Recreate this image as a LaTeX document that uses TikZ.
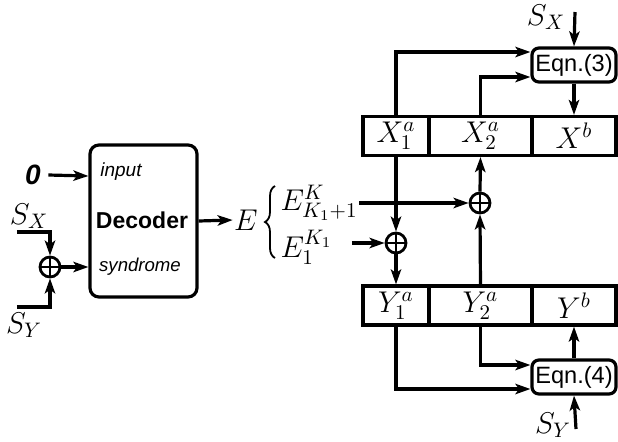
\RequirePackage{fix-cm}
\documentclass[tikz,border=0pt]{standalone}
\usepackage{fontspec}
\setmainfont{Liberation Sans}
\usetikzlibrary{arrows.meta,decorations.pathreplacing,calc}
\begin{document}
\begin{tikzpicture}[x=0.5pt,y=-0.5pt,
  line width=1.6pt,
  arr/.style={-{Stealth[length=7.5pt,width=5.2pt,inset=1.8pt]}},
  cell/.style={draw,minimum height=19.5pt,inner sep=0pt,font=\fontsize{15}{17}\selectfont},
  eqn/.style={draw,rounded corners=3.5pt,minimum width=42pt,minimum height=17pt,inner sep=0pt,font=\fontsize{11.8}{13}\selectfont},
  xorc/.style={draw,circle,minimum size=10pt,inner sep=0pt,line width=1.4pt,
    path picture={\draw[line width=1.3pt] (path picture bounding box.north)--(path picture bounding box.south)
      (path picture bounding box.west)--(path picture bounding box.east);}},
  mlab/.style={inner sep=0pt,font=\fontsize{15}{17}\selectfont},
  lab/.style={inner sep=0pt}]
\useasboundingbox (0,0) rectangle (618,441);
% left part
\node[draw,rounded corners=4.5pt,minimum width=53.5pt,minimum height=76pt,inner sep=0pt] (dec) at (143.5,221) {};
\node[lab,font=\fontsize{9.5}{11}\selectfont\itshape] (inp) at (121,172) {input};
\node[lab,font=\fontsize{11.5}{13}\selectfont\bfseries] (dtx) at (142,220) {Decoder};
\node[lab,font=\fontsize{9.3}{11}\selectfont\itshape] (syn) at (140,267) {syndrome};
\node[lab,font=\fontsize{14}{16}\selectfont\bfseries\itshape] (zero) at (33,175) {0};
\draw[arr] ([xshift=3pt]zero.east) -- ([yshift=22.5pt]dec.west);
\node[xorc] (xl) at (50,267) {};
\coordinate (sxl) at (17,232);
\coordinate (syl) at (17,307);
\node[mlab] (sxlab) at (29,216) {$S_X$};
\node[mlab] (sylab) at (24,325) {$S_Y$};
\draw[arr] (sxl) -| (xl.north);
\draw[arr] (syl) -| (xl.south);
\draw[arr] (xl.east) -- ([yshift=-23pt]dec.west);
\node[mlab] (E) at (246,220) {$E$};
\draw[arr] (dec.east) -- (E.west);
\draw[line width=0.9pt,decorate,decoration={brace,amplitude=5pt}] (275,258) -- (275,186);
\node[mlab,anchor=west] (ea) at (279,203) {$E^{K}_{K_1+1}$};
\node[mlab,anchor=west] (eb) at (279,247) {$E^{K_1}_{1}$};
% registers
\node[cell,minimum width=33pt] (X1) at (396,136) {$X_1^a$};
\node[cell,minimum width=51.5pt] (X2) at (480.5,136) {$X_2^a$};
\node[cell,minimum width=42pt] (Xb) at (574,136) {$X^b$};
\node[cell,minimum width=33pt] (Y1) at (396,305.5) {$Y_1^a$};
\node[cell,minimum width=51.5pt] (Y2) at (480.5,305.5) {$Y_2^a$};
\node[cell,minimum width=42pt] (Yb) at (574,305.5) {$Y^b$};
\node[eqn] (E3) at (574,65) {Eqn.(3)};
\node[eqn] (E4) at (574,377) {Eqn.(4)};
\node[xorc] (x1) at (480,203) {};
\node[xorc] (x2) at (396,243) {};
% top connections
\coordinate (sxr) at (575,12);
\node[mlab] (sxrl) at (546,17) {$S_X$};
\draw[arr] (sxr) -- (E3.north);
\draw[arr] (X1.north) |- ([yshift=6.5pt]E3.west);
\draw[arr] (X2.north) |- ([yshift=-6pt]E3.west);
\draw[arr] (E3.south) -- (Xb.north);
% middle
\draw[arr] (X1.south) -- (x2.north);
\draw[arr] (x2.south) -- (Y1.north);
\draw[arr] (Y2.north) -- (x1.south);
\draw[arr] (x1.north) -- (X2.south);
\draw[arr] (ea.east) -- (x1.west);
\coordinate (ebs) at (352,243);
\draw[arr] (ebs) -- (x2.west);
% bottom
\draw[arr] (Y1.south) |- ([yshift=-6pt]E4.west);
\draw[arr] (Y2.south) |- ([yshift=6pt]E4.west);
\draw[arr] (E4.north) -- (Yb.south);
\coordinate (syr) at (576,429);
\node[mlab] (syrl) at (553,425) {$S_Y$};
\draw[arr] (syr) -- (E4.south);
\end{tikzpicture}
\end{document}
